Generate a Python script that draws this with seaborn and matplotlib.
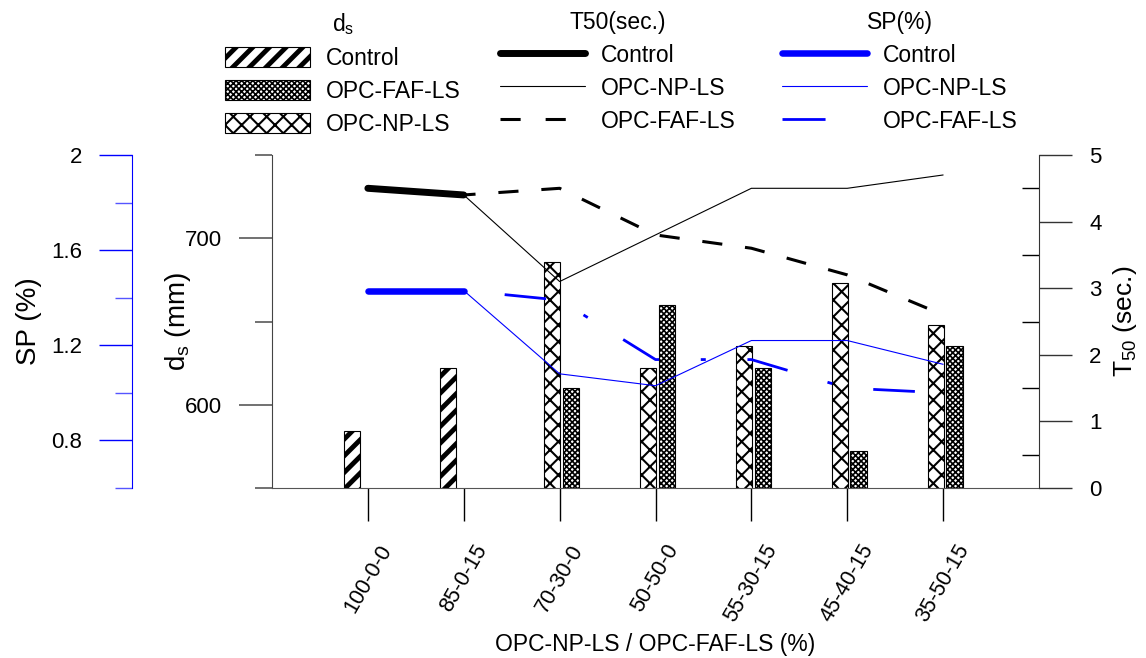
import numpy as np
import pandas as pd
import matplotlib
matplotlib.use("Agg")
import matplotlib.pyplot as plt
import matplotlib.patches as mpatches
from matplotlib.lines import Line2D
from matplotlib.ticker import FixedLocator, MultipleLocator
import seaborn as sns

mixes = ["100-0-0", "85-0-15", "70-30-0", "50-50-0", "55-30-15", "45-40-15", "35-50-15"]
nan = np.nan

# slump flow diameter d_s (mm)
ds_control = [584, 622, nan, nan, nan, nan, nan]
ds_np = [nan, nan, 686, 622, 635, 673, 648]
ds_faf = [nan, nan, 610, 660, 622, 572, 635]

# T50 (sec.)
t50_control = [4.5, 4.4, nan, nan, nan, nan, nan]
t50_np = [nan, 4.4, 3.1, 3.8, 4.5, 4.5, 4.7]
t50_faf = [nan, 4.4, 4.5, 3.8, 3.6, 3.2, 2.6]

# SP (%)
sp_control = [1.43, 1.43, nan, nan, nan, nan, nan]
sp_np = [nan, 1.43, 1.08, 1.03, 1.22, 1.22, 1.12]
sp_faf = [nan, 1.43, 1.39, 1.14, 1.14, 1.02, 1.0]

sns.set_style("ticks")
plt.rcParams['font.family'] = ['Liberation Sans', 'DejaVu Sans']
plt.rcParams['lines.scale_dashes'] = False
plt.rcParams['mathtext.default'] = 'regular'
plt.rcParams.update({'text.color': 'black', 'axes.labelcolor': 'black',
                     'xtick.color': 'black', 'ytick.color': 'black'})

BLUE = '#0000ff'
pos = np.arange(len(mixes))
bar_w = 0.17

# hatch styles: (pattern, hatch linewidth)
H_CONTROL = ('//', 3.5)
H_NP = ('xx', 1.5)
H_FAF = ('xxxxxx', 1.2)


def to_df(vals):
    df = pd.DataFrame({'pos': pos, 'val': vals})
    return df.dropna()


def hatched_bars(ax, offset, vals, style):
    hatch, hlw = style
    df = to_df(vals)
    with plt.rc_context({'hatch.linewidth': hlw}):
        bars = ax.bar(df['pos'] + offset, df['val'], width=bar_w, color='white',
                      edgecolor='black', linewidth=0.8, hatch=hatch)
    for b in bars:
        if hasattr(b, 'set_hatch_linewidth'):
            b.set_hatch_linewidth(hlw)
    return bars


fig = plt.figure(figsize=(11.46, 6.58), dpi=100)
ax = fig.add_axes([272 / 1146, 1 - 488 / 658, 767 / 1146, 333 / 658])

# bars: d_s
hatched_bars(ax, -0.162, ds_control, H_CONTROL)
hatched_bars(ax, -0.077, ds_np, H_NP)
hatched_bars(ax, 0.118, ds_faf, H_FAF)

ax.set_xlim(-1, 7)
ax.set_ylim(550, 750)
ax.yaxis.set_major_locator(FixedLocator([600, 700]))
ax.yaxis.set_minor_locator(FixedLocator([550, 650, 750]))
ax.set_xticks(pos, labels=mixes, rotation=60, fontsize=15.5)
ax.tick_params(axis='x', length=24, width=1, color='black', labelcolor='black', pad=14)
ax.tick_params(axis='y', which='major', length=24, width=1.3, color='#666666',
               labelcolor='black', labelsize=16, pad=12)
ax.tick_params(axis='y', which='minor', length=12, width=1.3, color='#666666')
for s in ['top', 'right']:
    ax.spines[s].set_visible(False)
ax.spines['left'].set_color('#444444')
ax.spines['bottom'].set_color('#555555')
ax.set_ylabel(r"d$_s$ (mm)", fontsize=20)
ax.yaxis.set_label_coords(-0.103, 0.5)
ax.set_xlabel("OPC-NP-LS / OPC-FAF-LS (%)", fontsize=16.5)
ax.xaxis.set_label_coords(0.5, -0.435)

# T50 lines on right axis
ax2 = ax.twinx()
sns.lineplot(data=to_df(t50_np), x='pos', y='val', ax=ax2, color='black', linewidth=0.8,
             errorbar=None, legend=False)
sns.lineplot(data=to_df(t50_faf), x='pos', y='val', ax=ax2, color='black', linewidth=2.2,
             linestyle=(6, (14.5, 16.5)), errorbar=None, legend=False)
sns.lineplot(data=to_df(t50_control), x='pos', y='val', ax=ax2, color='black', linewidth=5,
             solid_capstyle='round', errorbar=None, legend=False)
ax2.set_ylim(0, 5)
ax2.yaxis.set_major_locator(MultipleLocator(1))
ax2.yaxis.set_minor_locator(MultipleLocator(0.5))
ax2.tick_params(axis='y', which='major', direction='out', length=24, width=1, color='#333333',
                labelcolor='black', labelsize=16, pad=12)
ax2.tick_params(axis='y', which='minor', direction='in', length=12, width=1, color='black')
for s in ['left', 'top', 'bottom']:
    ax2.spines[s].set_visible(False)
ax2.spines['right'].set_color('#333333')
ax2.set_ylabel(r"T$_{50}$ (sec.)", fontsize=19)
ax2.yaxis.set_label_coords(1.094, 0.5)

# SP lines on offset left axis
ax3 = ax.twinx()
sns.lineplot(data=to_df(sp_np), x='pos', y='val', ax=ax3, color=BLUE, linewidth=0.8,
             errorbar=None, legend=False)
sns.lineplot(data=to_df(sp_faf), x='pos', y='val', ax=ax3, color=BLUE, linewidth=2,
             linestyle=(64, (30, 30, 3.6, 30)), errorbar=None, legend=False)
sns.lineplot(data=to_df(sp_control), x='pos', y='val', ax=ax3, color=BLUE, linewidth=4.7,
             solid_capstyle='round', errorbar=None, legend=False)
ax3.set_ylim(0.6, 2.0)
ax3.spines['left'].set_position(('axes', -140 / 767))
ax3.spines['left'].set_visible(True)
ax3.spines['left'].set_color(BLUE)
for s in ['right', 'top', 'bottom']:
    ax3.spines[s].set_visible(False)
ax3.yaxis.set_ticks_position('left')
ax3.yaxis.set_label_position('left')
ax3.set_yticks([0.8, 1.2, 1.6, 2.0], labels=['0.8', '1.2', '1.6', '2'])
ax3.yaxis.set_minor_locator(FixedLocator([0.6, 1.0, 1.4, 1.8]))
ax3.tick_params(axis='y', which='major', direction='out', length=24, width=1, color=BLUE,
                labelcolor='black', labelsize=16, pad=12)
ax3.tick_params(axis='y', which='minor', direction='out', length=12, width=1, color='#5555ff')
ax3.set_ylabel("SP (%)", fontsize=20)
ax3.yaxis.set_label_coords(-0.30, 0.5)
ax2.set_xlabel('')
ax3.set_xlabel('')

# legends
leg_kw = dict(loc='upper left', frameon=False, fontsize=16.5, title_fontsize=16.5,
              handlelength=3.7, handleheight=0.95, handletextpad=0.7, labelspacing=0.44,
              borderpad=0, borderaxespad=0)
top = 1 - 11 / 658

ds_styles = [H_CONTROL, H_FAF, H_NP]
ds_handles = [mpatches.Patch(facecolor='white', edgecolor='black', linewidth=0.8, hatch=h)
              for h, _ in ds_styles]
leg1 = fig.legend(handles=ds_handles, labels=['Control', 'OPC-FAF-LS', 'OPC-NP-LS'],
                  title=r"d$_s$", bbox_to_anchor=(225 / 1146, top), **leg_kw)
for p, (_, hlw) in zip(leg1.get_patches(), ds_styles):
    if hasattr(p, 'set_hatch_linewidth'):
        p.set_hatch_linewidth(hlw)

t50_handles = [Line2D([], [], color='black', lw=5, solid_capstyle='round'),
               Line2D([], [], color='black', lw=0.8),
               Line2D([], [], color='black', lw=2.2, linestyle=(0, (14.5, 18)))]
fig.legend(handles=t50_handles, labels=['Control', 'OPC-NP-LS', 'OPC-FAF-LS'],
           title="T50(sec.)", bbox_to_anchor=(500 / 1146, top), **leg_kw)

sp_handles = [Line2D([], [], color=BLUE, lw=4.7, solid_capstyle='round'),
              Line2D([], [], color=BLUE, lw=0.8),
              Line2D([], [], color=BLUE, lw=2, linestyle=(0, (31, 40)))]
fig.legend(handles=sp_handles, labels=['Control', 'OPC-NP-LS', 'OPC-FAF-LS'],
           title="SP(%)", bbox_to_anchor=(782 / 1146, top), **leg_kw)

fig.savefig("out.png", dpi=100)
